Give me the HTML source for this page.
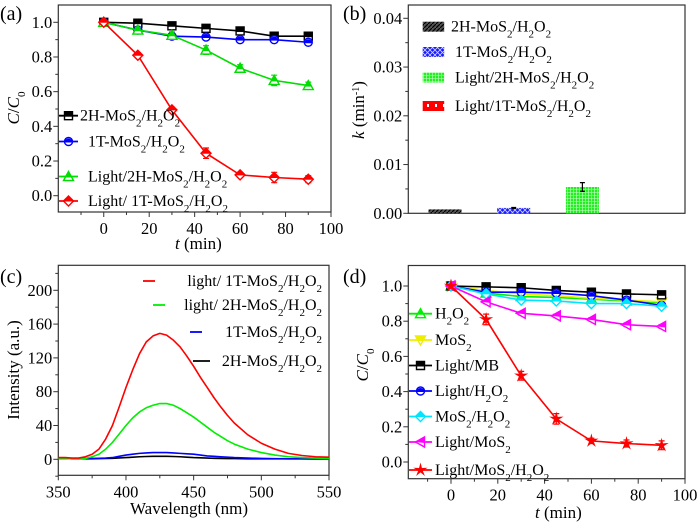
<!DOCTYPE html>
<html><head><meta charset="utf-8">
<style>
html,body{margin:0;padding:0;background:#fff;}
svg, svg text{font-family:"Liberation Serif","DejaVu Serif",serif;}
</style></head>
<body>
<svg id="fig" width="700" height="525" viewBox="0 0 700 525" xmlns="http://www.w3.org/2000/svg">
<defs>
<pattern id="pat-black" width="4" height="4" patternUnits="userSpaceOnUse"><rect width="4" height="4" fill="#555"/><path d="M0,4 L4,0" stroke="#000" stroke-width="1.2"/></pattern>
<pattern id="pat-blue" width="5" height="5" patternUnits="userSpaceOnUse"><rect width="5" height="5" fill="#1a1aff"/><path d="M0,0 L5,5 M5,0 L0,5" stroke="#cfd4ff" stroke-width="0.8"/></pattern>
<pattern id="pat-green" width="3" height="3" patternUnits="userSpaceOnUse"><rect width="3" height="3" fill="#22ee22"/><path d="M0,0.5 H3 M0.5,0 V3" stroke="#c8ffc8" stroke-width="0.6"/></pattern>
<pattern id="pat-red" width="8" height="8" patternUnits="userSpaceOnUse"><rect width="8" height="8" fill="#ff0000"/><rect x="3" y="0" width="2" height="3" fill="#fff"/></pattern>
</defs>
</svg>
<script>
// ---------- Panel (a) data ----------
const timesA = [0, 15, 30, 45, 60, 75, 90];
const a2H = [1.0, 0.995, 0.98, 0.965, 0.95, 0.92, 0.92];
const a1T = [1.0, 0.955, 0.92, 0.915, 0.90, 0.90, 0.885];
const aLight2H = [1.0, 0.955, 0.925, 0.84, 0.735, 0.665, 0.635];
const aLight1T = [1.0, 0.81, 0.495, 0.245, 0.12, 0.105, 0.095];
const aErrSmall = [0, 0.01, 0.01, 0.01, 0.015, 0.01, 0.01];
const aErrGreen = [0, 0.015, 0.02, 0.025, 0.02, 0.03, 0.02];
const aErrRed = [0, 0.015, 0.015, 0.03, 0.015, 0.03, 0.02];
const aXTicks = [0, 20, 40, 60, 80, 100];
const aYTicks = [0.0, 0.2, 0.4, 0.6, 0.8, 1.0];
const aYTickLabels = ["0.0", "0.2", "0.4", "0.6", "0.8", "1.0"];

// ---------- Panel (b) data ----------
const bCategories = ["2H-MoS2/H2O2", "1T-MoS2/H2O2", "Light/2H-MoS2/H2O2", "Light/1T-MoS2/H2O2"];
const bValues = [0.0008, 0.0011, 0.0054, 0];
const bErrors = [0, 0.0001, 0.0009, 0];
const bYTicks = [0, 0.01, 0.02, 0.03, 0.04];
const bYTickLabels = ["0.00", "0.01", "0.02", "0.03", "0.04"];

// ---------- Panel (c) data ----------
const cWave = [350, 355, 360, 365, 370, 375, 380, 385, 390, 395, 400, 405, 410, 415, 420, 425, 430, 435, 440, 445, 450, 455, 460, 465, 470, 475, 480, 490, 500, 510, 520, 530, 540, 550];
const cRed = [2, 2, 1.5, 1.5, 3, 6, 12, 24, 40, 62, 85, 106, 125, 139, 146, 149, 147, 141, 133, 122, 110, 97, 85, 73, 62, 52, 43, 29, 19, 12, 7, 4.5, 3, 2.5];
const cGreen = [1, 1, 0.5, 0.5, 1, 3, 6, 12, 20, 30, 40, 49, 56, 61, 64, 66, 66, 64, 60, 55, 50, 44, 38, 32, 27, 22, 18, 12, 8, 5, 3, 2, 1.5, 1];
const cBlue = [1, 1, 0.8, 0.8, 1, 1, 1.2, 1.5, 2, 3.5, 5, 6, 7, 7.5, 8, 8, 8, 7.5, 7, 6.5, 6, 5, 4, 3.5, 3, 2.5, 2, 1.5, 1, 0.8, 0.6, 0.5, 0.3, 0.2];
const cBlack = [1, 1, 0.5, 0.5, 0.5, 0.6, 0.8, 1, 1.2, 1.6, 2, 2.5, 3, 3.3, 3.5, 3.5, 3.5, 3.3, 3, 2.5, 2, 1.8, 1.5, 1.2, 1, 0.9, 0.8, 0.5, 0.5, 0.5, 0.5, 0.5, 0.5, 0.5];
const cXTicks = [350, 400, 450, 500, 550];
const cYTicks = [0, 40, 80, 120, 160, 200];

// ---------- Panel (d) data ----------
const timesD = [0, 15, 30, 45, 60, 75, 90];
const dH2O2 = [1, 0.96, 0.94, 0.935, 0.925, 0.915, 0.905];
const dMoS2 = [1, 0.975, 0.955, 0.945, 0.93, 0.92, 0.91];
const dLightMB = [1, 0.995, 0.99, 0.975, 0.965, 0.955, 0.95];
const dLightH2O2 = [1, 0.965, 0.965, 0.96, 0.945, 0.92, 0.89];
const dMoS2H2O2 = [1, 0.955, 0.92, 0.915, 0.90, 0.90, 0.885];
const dLightMoS2 = [1, 0.91, 0.845, 0.83, 0.81, 0.78, 0.77];
const dLightMoS2H2O2 = [1, 0.81, 0.49, 0.245, 0.12, 0.105, 0.095];
const dErrRed = [0, 0.03, 0.025, 0.03, 0.015, 0.02, 0.025];
const dErrSmall = [0, 0.01, 0.01, 0.01, 0.01, 0.01, 0.01];

const NS = "http://www.w3.org/2000/svg";
const svg = document.getElementById("fig");
const FONT = "Liberation Serif, DejaVu Serif, serif";
function mk(tag, attrs, parent) {
  const e = document.createElementNS(NS, tag);
  for (const k in attrs) e.setAttribute(k, attrs[k]);
  if (tag === "text") e.setAttribute("font-family", FONT);
  (parent || svg).appendChild(e);
  return e;
}
function lin(d0, d1, r0, r1) { return v => r0 + (v - d0) / (d1 - d0) * (r1 - r0); }

function drawFrame(g, L, R, T, B, xs, ys, xTicks, xMinor, yTicks, yLabels, yMinor, xLabels) {
  const fr = mk("rect", {x: L, y: T, width: R - L, height: B - T, fill: "none", stroke: "#333", "stroke-width": 1.2}, g);
  
  
  yTicks.forEach((v, i) => {
    mk("line", {x1: L - 5, x2: L, y1: ys(v), y2: ys(v), stroke: "#333", "stroke-width": 1}, g);
    const t = mk("text", {x: L - 6, y: ys(v) + 5.5, "text-anchor": "end", "font-size": 16.5}, g);
    t.textContent = yLabels[i];
    
    
  });
  yMinor.forEach(v => mk("line", {x1: L - 3, x2: L, y1: ys(v), y2: ys(v), stroke: "#333", "stroke-width": 1}, g));
  if (xTicks) {
    xTicks.forEach((v, i) => {
      mk("line", {x1: xs(v), x2: xs(v), y1: B, y2: B + 5, stroke: "#333", "stroke-width": 1}, g);
      const t = mk("text", {x: xs(v), y: B + 22, "text-anchor": "middle", "font-size": 16.5}, g);
      t.textContent = xLabels ? xLabels[i] : String(v);
      
      
    });
    xMinor.forEach(v => mk("line", {x1: xs(v), x2: xs(v), y1: B, y2: B + 3, stroke: "#333", "stroke-width": 1}, g));
  }
}

function marker(g, shape, x, y, color, s) {
  s = s || 4;
  let full, top;
  if (shape === "square") {
    full = `M${x-s},${y-s}H${x+s}V${y+s}H${x-s}Z`; top = `M${x-s},${y-s}H${x+s}V${y+1}H${x-s}Z`;
  } else if (shape === "circle") {
    full = `M${x-s},${y}A${s},${s} 0 1 1 ${x+s},${y}A${s},${s} 0 1 1 ${x-s},${y}Z`;
    top = `M${x-s},${y+1}A${s},${s} 0 0 1 ${x+s},${y+1}Z`;
  } else if (shape === "up") {
    full = `M${x},${y-s-1}L${x+s+1},${y+s}H${x-s-1}Z`; top = `M${x},${y-s-1}L${x+s*0.7},${y+1}H${x-s*0.7}Z`;
  } else if (shape === "down") {
    full = `M${x},${y+s+1}L${x+s+1},${y-s}H${x-s-1}Z`; top = `M${x-s-1},${y-s}H${x+s+1}L${x+s*0.5},${y+1}H${x-s*0.5}Z`;
  } else if (shape === "diamond") {
    full = `M${x},${y-s-1}L${x+s+1},${y}L${x},${y+s+1}L${x-s-1},${y}Z`; top = `M${x},${y-s-1}L${x+s+1},${y+0.5}H${x-s-1}Z`;
  } else if (shape === "left") {
    full = `M${x-s-1},${y}L${x+s},${y-s-1}V${y+s+1}Z`; top = `M${x-s-1},${y}L${x+s},${y-s-1}V${y+1}Z`;
  } else { // star
    let p = "";
    for (let i = 0; i < 10; i++) { const r = i % 2 ? s * 0.45 : s + 1.5; const a = -Math.PI / 2 + i * Math.PI / 5; p += (i ? "L" : "M") + (x + r * Math.cos(a)).toFixed(2) + "," + (y + r * Math.sin(a)).toFixed(2); }
    return mk("path", {d: p + "Z", fill: color, stroke: color, "stroke-width": 1}, g);
  }
  const m = mk("path", {d: full, fill: "#fff", stroke: color, "stroke-width": 1.4}, g);
  mk("path", {d: top, fill: color}, g);
  return m;
}

function series(g, name, xsArr, ysArr, errs, xs, ys, color, shape) {
  const sg = mk("g", {}, g);
  
  
  const pts = xsArr.map((v, i) => xs(v).toFixed(2) + "," + ys(ysArr[i]).toFixed(2)).join(" ");
  mk("polyline", {points: pts, fill: "none", stroke: color, "stroke-width": 1.6}, sg);
  xsArr.forEach((v, i) => {
    const e = errs ? errs[i] : 0;
    if (e > 0) {
      const X = xs(v), y1 = ys(ysArr[i] + e), y2 = ys(ysArr[i] - e);
      mk("path", {d: `M${X},${y1}V${y2}M${X-3},${y1}H${X+3}M${X-3},${y2}H${X+3}`, stroke: color, "stroke-width": 1.2, fill: "none"}, sg);
    }
    const m = marker(sg, shape, xs(v), ys(ysArr[i]), color);
    
    
  });
}

function legendLine(g, name, x1, x2, y, color, shape, tx, html, anchor) {
  const lg = mk("g", {}, g);
  
  
  mk("line", {x1: x1, x2: x2, y1: y, y2: y, stroke: color, "stroke-width": 1.8}, lg);
  if (shape) marker(lg, shape, (x1 + x2) / 2, y, color);
  const t = mk("text", {x: tx, y: y + 5, "font-size": 16, "text-anchor": anchor || "start"}, lg);
  t.innerHTML = html;
}
function sub(s) { return `<tspan baseline-shift="sub" font-size="11">${s}</tspan>`; }
const MOS = "MoS" + sub("2") + "/H" + sub("2") + "O" + sub("2");

function label(txt, x, y, name, size, rot) {
  const t = mk("text", {x: x, y: y, "font-size": size || 18, "text-anchor": rot ? "middle" : "start"});
  if (rot) t.setAttribute("transform", `rotate(-90 ${x} ${y})`);
  t.innerHTML = txt;
  
  
  return t;
}

// ===== Panel (a) =====
(function () {
  const g = mk("g", {});  
  const L = 58.3, R = 331, T = 5, B = 212;
  const xs = lin(-20, 100, L, R), ys = lin(0, 1, 195.7, 22.3);
  drawFrame(g, L, R, T, B, xs, ys, aXTicks, [-10, 10, 30, 50, 70, 90], aYTicks, aYTickLabels, [0.1, 0.3, 0.5, 0.7, 0.9], null);
  series(g, "series-2h-mos2-h2o2", timesA, a2H, aErrSmall, xs, ys, "#000", "square");
  series(g, "series-1t-mos2-h2o2", timesA, a1T, aErrSmall, xs, ys, "#0000ff", "circle");
  series(g, "series-light-2h-mos2-h2o2", timesA, aLight2H, aErrGreen, xs, ys, "#00dd00", "up");
  series(g, "series-light-1t-mos2-h2o2", timesA, aLight1T, aErrRed, xs, ys, "#ff0000", "diamond");
  legendLine(g, "legend-2h", 59, 78, 115.7, "#000", "square", 80, "2H-" + MOS);
  legendLine(g, "legend-1t", 59, 78, 141.5, "#0000ff", "circle", 88, "1T-" + MOS);
  legendLine(g, "legend-light-2h", 59, 78, 176.5, "#00dd00", "up", 88, "Light/2H-" + MOS);
  legendLine(g, "legend-light-1t", 59, 78, 201, "#ff0000", "diamond", 88, "Light/ 1T-" + MOS);
  label("(a)", 0, 20, "panel-label-a", 20);
  label('<tspan font-style="italic">t</tspan> (min)', 175, 249, "x-axis-title-a", 17);
  label('<tspan font-style="italic">C</tspan>/<tspan font-style="italic">C</tspan><tspan baseline-shift="sub" font-size="11">0</tspan>', 19, 108, "y-axis-title-a", 17, true);
})();

// ===== Panel (b) =====
(function () {
  const g = mk("g", {});  
  const L = 408.3, R = 685, T = 5, B = 213.3;
  const ys = lin(0, 0.04, 213.3, 18.3);
  const xs = lin(0, 4, L, R);
  const minor = [0.005, 0.015, 0.025, 0.035];
  drawFrame(g, L, R, T, B, xs, ys, null, [], bYTicks, bYTickLabels, minor, null);
  const pats = ["url(#pat-black)", "url(#pat-blue)", "url(#pat-green)", "url(#pat-red)"];
  const bw = 33;
  bValues.forEach((v, i) => {
    const cx = 445 + i * 68.7;
    const y0 = ys(v);
    const r = mk("rect", {x: cx - bw / 2, y: y0, width: bw, height: B - y0, fill: pats[i]}, g);
    
    
    if (bErrors[i] > 0) {
      const y1 = ys(v + bErrors[i]), y2 = ys(v - bErrors[i]);
      mk("path", {d: `M${cx},${y1}V${y2}M${cx-2.5},${y1}H${cx+2.5}M${cx-2.5},${y2}H${cx+2.5}`, stroke: "#000", "stroke-width": 1.2, fill: "none"}, g);
    }
  });
  const names = ["2H-" + MOS, "1T-" + MOS, "Light/2H-" + MOS, "Light/1T-" + MOS];
  const ly = [26.7, 52, 77.5, 106];
  names.forEach((n, i) => {
    const lg = mk("g", {}, g);
    
    
    mk("rect", {x: 422.7, y: ly[i] - 5, width: 21.5, height: 10, fill: pats[i]}, lg);
    const t = mk("text", {x: i === 0 ? 451 : 455, y: ly[i] + 5, "font-size": 16}, lg);
    t.innerHTML = n;
  });
  label("(b)", 343, 20, "panel-label-b", 20);
  label('<tspan font-style="italic">k</tspan> (min<tspan baseline-shift="super" font-size="10">-1</tspan>)', 364, 110, "y-axis-title-b", 17, true);
})();

// ===== Panel (c) =====
(function () {
  const g = mk("g", {});  
  const L = 58.3, R = 329, T = 265.3, B = 475.3;
  const xs = lin(350, 550, L, R), ys = lin(0, 200, 459.3, 290.3);
  drawFrame(g, L, R, T, B, xs, ys, cXTicks, [375, 425, 475, 525], cYTicks, cYTicks.map(String), [-20, 20, 60, 100, 140, 180, 220], null);
  const sets = [["curve-2h-mos2-h2o2", cBlack, "#000"], ["curve-1t-mos2-h2o2", cBlue, "#0000ff"], ["curve-light-2h", cGreen, "#00ee00"], ["curve-light-1t", cRed, "#ff0000"]];
  sets.forEach(s => {
    const pts = cWave.map((w, i) => xs(w).toFixed(2) + "," + ys(s[1][i]).toFixed(2)).join(" ");
    const p = mk("polyline", {points: pts, fill: "none", stroke: s[2], "stroke-width": 1.6, "stroke-linejoin": "round"}, g);
    
    
  });
  legendLine(g, "legend-light-1t-c", 143, 155, 281, "#ff0000", null, 322, "light/ 1T-" + MOS, "end");
  legendLine(g, "legend-light-2h-c", 153, 165, 305, "#00ee00", null, 322, "light/ 2H-" + MOS, "end");
  legendLine(g, "legend-1t-c", 190, 202, 332, "#0000ff", null, 322, "1T-" + MOS, "end");
  legendLine(g, "legend-2h-c", 193, 210, 361, "#000", null, 322, "2H-" + MOS, "end");
  label("(c)", 0, 283, "panel-label-c", 20);
  label("Wavelength (nm)", 130, 514, "x-axis-title-c", 17);
  label("Intensity (a.u.)", 19, 370, "y-axis-title-c", 17, true);
})();

// ===== Panel (d) =====
(function () {
  const g = mk("g", {});  
  const L = 408.3, R = 685, T = 265.5, B = 478.7;
  const xs = lin(0, 100, 451, 685), ys = lin(0, 1, 462, 286);
  drawFrame(g, L, R, T, B, xs, ys, aXTicks, [-10, 10, 30, 50, 70, 90], aYTicks, aYTickLabels, [0.1, 0.3, 0.5, 0.7, 0.9], null);
  series(g, "series-h2o2", timesD, dH2O2, null, xs, ys, "#00ee00", "up");
  series(g, "series-mos2", timesD, dMoS2, null, xs, ys, "#eeee00", "down");
  series(g, "series-light-mb", timesD, dLightMB, null, xs, ys, "#000", "square");
  series(g, "series-light-h2o2", timesD, dLightH2O2, null, xs, ys, "#0000ff", "circle");
  series(g, "series-mos2-h2o2", timesD, dMoS2H2O2, dErrSmall, xs, ys, "#00e5ff", "diamond");
  series(g, "series-light-mos2", timesD, dLightMoS2, dErrSmall, xs, ys, "#ff00ff", "left");
  series(g, "series-light-mos2-h2o2", timesD, dLightMoS2H2O2, dErrRed, xs, ys, "#ff0000", "star");
  const leg = [["H" + sub("2") + "O" + sub("2"), "#00ee00", "up"], ["MoS" + sub("2"), "#eeee00", "down"], ["Light/MB", "#000", "square"], ["Light/H" + sub("2") + "O" + sub("2"), "#0000ff", "circle"], [MOS, "#00e5ff", "diamond"], ["Light/MoS" + sub("2"), "#ff00ff", "left"], ["Light/" + MOS, "#ff0000", "star"]];
  const ly = [313.7, 340, 365.5, 391, 416.5, 442, 470];
  leg.forEach((l, i) => legendLine(g, "legend-d-" + (i + 1), 409, 432, ly[i], l[1], l[2], 435, l[0]));
  label("(d)", 343, 283, "panel-label-d", 20);
  label('<tspan font-style="italic">t</tspan> (min)', 535, 518, "x-axis-title-d", 17);
  label('<tspan font-style="italic">C</tspan>/<tspan font-style="italic">C</tspan><tspan baseline-shift="sub" font-size="11">0</tspan>', 368, 365, "y-axis-title-d", 17, true);
})();
</script>
</body></html>
